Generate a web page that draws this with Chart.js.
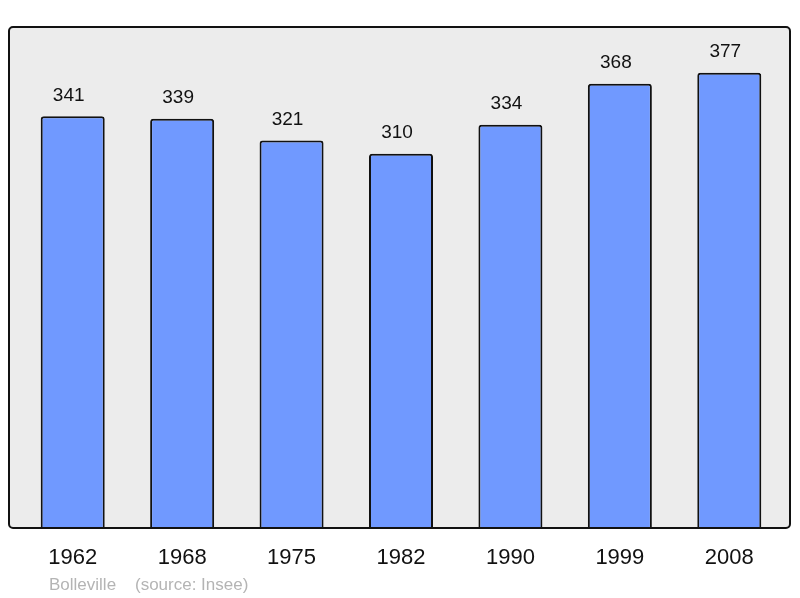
<!DOCTYPE html>
<html>
<head>
<meta charset="utf-8">
<script src="https://cdn.jsdelivr.net/npm/chart.js@4/dist/chart.umd.min.js"></script>
<style>
  html, body { margin: 0; padding: 0; background: #fff; }
  #wrap { width: 800px; height: 598px; }
</style>
</head>
<body>
<div id="wrap"><canvas id="myChart" width="800" height="598"></canvas></div>
<script>
const years = ['1962', '1968', '1975', '1982', '1990', '1999', '2008'];
const population = [341, 339, 321, 310, 334, 368, 377];
const sourceText = 'Bolleville    (source: Insee)';

const fontFam = '"Liberation Sans", Arial, sans-serif';

// grey frame behind the bars
const framePlugin = {
  id: 'frame',
  beforeDraw(chart) {
    const c = chart.ctx, a = chart.chartArea;
    const x0 = a.left - 9, x1 = a.right + 6, y0 = a.top, y1 = a.bottom;
    c.save();
    c.beginPath();
    c.roundRect(x0, y0, x1 - x0, y1 - y0, 4);
    c.fillStyle = '#ececec';
    c.fill();
    c.restore();
  },
  afterDatasetsDraw(chart) {
    const c = chart.ctx, a = chart.chartArea;
    const x0 = a.left - 9, x1 = a.right + 6, y0 = a.top, y1 = a.bottom;
    c.save();
    c.beginPath();
    c.roundRect(x0, y0, x1 - x0, y1 - y0, 4);
    c.lineWidth = 2;
    c.strokeStyle = '#111';
    c.stroke();

    // values above bars
    c.font = '19px ' + fontFam;
    c.fillStyle = '#111';
    c.textAlign = 'center';
    c.textBaseline = 'middle';
    chart.getDatasetMeta(0).data.forEach((bar, i) => {
      c.fillText(String(population[i]), bar.x - 4, bar.y - 21);
    });

    // source line
    c.font = '17px ' + fontFam;
    c.fillStyle = '#b4b4b4';
    c.textAlign = 'left';
    c.fillText(sourceText, a.left + 31, chart.height - 13);
    c.restore();
  }
};

const ctx = document.getElementById('myChart').getContext('2d');
const myChart = new Chart(ctx, {
  type: 'bar',
  data: {
    labels: years,
    datasets: [{
      data: population,
      backgroundColor: '#7099ff',
      borderColor: '#111',
      borderWidth: 2,
      borderSkipped: 'bottom',
      borderRadius: { topLeft: 3, topRight: 3, bottomLeft: 0, bottomRight: 0 },
      barPercentage: 0.585,
      categoryPercentage: 1
    }]
  },
  options: {
    responsive: false,
    animation: false,
    layout: { padding: { left: 18, right: 16, top: 27, bottom: 0 } },
    plugins: { legend: { display: false }, tooltip: { enabled: false } },
    scales: {
      x: {
        grid: { display: false, drawTicks: false },
        border: { display: false },
        ticks: { color: '#111', font: { family: fontFam, size: 22 }, padding: 17 },
        afterFit(s) { s.height = 70; }
      },
      y: {
        display: false,
        min: 0,
        max: 415
      }
    }
  },
  plugins: [framePlugin]
});
</script>
</body>
</html>
